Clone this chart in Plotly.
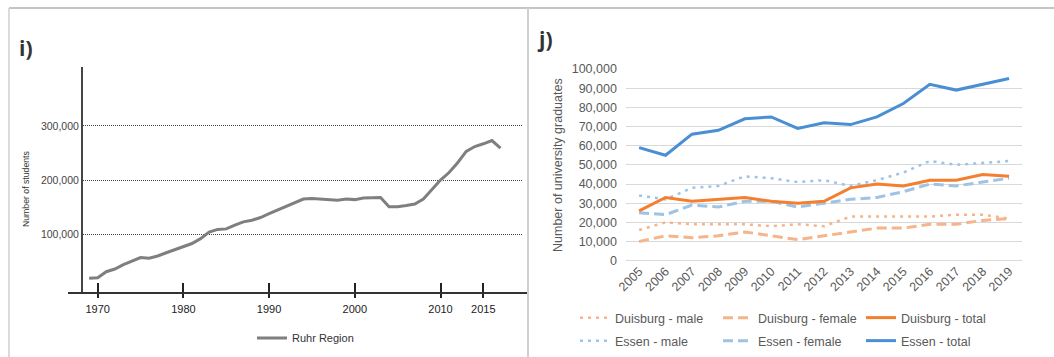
import plotly.graph_objects as go

W, H = 1054, 357


def px(x):
    return x / W


def py(y):
    return 1 - y / H


# ---- panel i): students in the Ruhr Region ----
ruhr_years = list(range(1969, 2018))
ruhr_students = [
    19000, 20000, 31000, 36000, 44000, 51000, 57000, 56000, 60000, 66000,
    72000, 78000, 83000, 92000, 104000, 109000, 110000, 117000, 123000, 126000,
    131000, 138000, 145000, 151000, 158000, 165000, 166000, 165000, 163000, 163000,
    165000, 164000, 167000, 167000, 168000, 151000, 151000, 153000, 156000, 165000,
    183000, 200000, 214000, 232000, 253000, 262000, 267000, 273000, 259000,
]
ruhr_ticks = [1970, 1980, 1990, 2000, 2010, 2015]
student_ticks = [100000, 200000, 300000]

# ---- panel j): university graduates ----
grad_years = [str(y) for y in range(2005, 2020)]
duisburg_male = [16000, 20000, 19000, 19000, 19000, 18000, 19000, 18000, 23000, 23000, 23000, 23000, 24000, 24000, 22000]
duisburg_female = [10000, 13000, 12000, 13000, 15000, 13000, 11000, 13000, 15000, 17000, 17000, 19000, 19000, 21000, 22000]
duisburg_total = [26000, 33000, 31000, 32000, 33000, 31000, 30000, 31000, 38000, 40000, 39000, 42000, 42000, 45000, 44000]
essen_male = [34000, 32000, 38000, 39000, 44000, 43000, 41000, 42000, 39000, 42000, 46000, 52000, 50000, 51000, 52000]
essen_female = [25000, 24000, 29000, 28000, 31000, 31000, 28000, 30000, 32000, 33000, 36000, 40000, 39000, 41000, 43000]
essen_total = [59000, 55000, 66000, 68000, 74000, 75000, 69000, 72000, 71000, 75000, 82000, 92000, 89000, 92000, 95000]

LIGHT_ORANGE = "#F6B48A"
ORANGE = "#F47F2E"
LIGHT_BLUE = "#9DC3E6"
BLUE = "#4A8FD3"

fig = go.Figure()

fig.add_trace(go.Scatter(
    x=ruhr_years, y=ruhr_students, mode="lines", name="Ruhr Region",
    line=dict(color="#7f7f7f", width=3), xaxis="x", yaxis="y", legend="legend",
))

# empty trace so the baseline axis pair (x3/y3) gets drawn
fig.add_trace(go.Scatter(x=[None], y=[None], mode="lines", xaxis="x3", yaxis="y3",
                         showlegend=False, hoverinfo="skip"))

grad_series = [
    ("Duisburg - male", duisburg_male, LIGHT_ORANGE, "3px,5px", 2.5, "legend2"),
    ("Duisburg - female", duisburg_female, LIGHT_ORANGE, "10px,5px", 3, "legend2"),
    ("Essen - male", essen_male, LIGHT_BLUE, "3px,5px", 2.5, "legend3"),
    ("Essen - female", essen_female, LIGHT_BLUE, "10px,5px", 3, "legend3"),
    ("Duisburg - total", duisburg_total, ORANGE, "solid", 3, "legend2"),
    ("Essen - total", essen_total, BLUE, "solid", 3, "legend3"),
]
rank = {"Duisburg - male": 1, "Duisburg - female": 2, "Duisburg - total": 3,
        "Essen - male": 1, "Essen - female": 2, "Essen - total": 3}
for name, vals, color, dash, width, leg in grad_series:
    fig.add_trace(go.Scatter(
        x=grad_years, y=vals, mode="lines", name=name,
        line=dict(color=color, width=width, dash=dash),
        xaxis="x4", yaxis="y4", legend=leg, legendrank=rank[name],
    ))

left_y_dom = [py(291.7), py(67)]
right_y_dom = [py(260.7), py(69)]


def year_at(x):
    return 1970 + (x - 97.7) / 8.57


left_font = dict(family="Liberation Sans, Arial, sans-serif")
right_font = dict(family="Liberation Sans, Arial, sans-serif", size=12.5, color="#595959")

fig.update_layout(
    width=W, height=H,
    margin=dict(l=0, r=0, t=0, b=0, autoexpand=False),
    paper_bgcolor="white", plot_bgcolor="rgba(0,0,0,0)",
    showlegend=True,
    # left panel
    xaxis=dict(
        domain=[px(83), px(523)], range=[year_at(83), year_at(523)],
        anchor="y", tickmode="array", tickvals=ruhr_ticks,
        ticks="outside", ticklen=5, tickwidth=1.5, tickcolor="#222",
        tickfont=dict(size=11, color="#222", **left_font), ticklabelstandoff=2,
        showgrid=False, zeroline=False, showline=False, automargin=False,
    ),
    yaxis=dict(
        domain=left_y_dom, range=[-5900, 408700], anchor="x",
        tickmode="array", tickvals=student_ticks, tickformat=",",
        tickfont=dict(size=10.5, color="#444", **left_font), ticks="",
        showgrid=True, gridcolor="#444", gridwidth=1, griddash="1px,1px",
        zeroline=False, showline=True, linecolor="#444", linewidth=2, automargin=False,
    ),
    # baseline of the left panel, reaching past the value axis, with inner ticks
    xaxis3=dict(
        domain=[px(68), px(527)], range=[year_at(68), year_at(527)],
        anchor="y3", tickmode="array", tickvals=ruhr_ticks,
        ticks="inside", ticklen=9, tickwidth=1.5, tickcolor="#222",
        showticklabels=False, showgrid=False, zeroline=False,
        showline=True, linecolor="#333", linewidth=1.5, automargin=False,
    ),
    yaxis3=dict(
        domain=left_y_dom, anchor="x3", range=[0, 1],
        showgrid=False, zeroline=False, showline=False,
        showticklabels=False, ticks="", automargin=False,
    ),
    # right panel
    xaxis4=dict(
        domain=[px(625.9), px(1022.3)], anchor="y4", type="category",
        range=[-0.5, 14.5], tickangle=-45, tickfont=right_font,
        ticks="", showgrid=False, zeroline=False, showline=False, automargin=False,
    ),
    yaxis4=dict(
        domain=right_y_dom, anchor="x4", range=[0, 100000], dtick=10000,
        tickformat=",", tickfont=right_font, ticks="", ticklabelstandoff=8,
        showgrid=True, gridcolor="#d9d9d9", gridwidth=1,
        zeroline=True, zerolinecolor="#d9d9d9", zerolinewidth=1,
        showline=False, automargin=False,
    ),
    legend=dict(
        orientation="h", x=px(252), xanchor="left", y=py(338), yanchor="middle",
        font=dict(size=11, color="#333", **left_font), bgcolor="rgba(0,0,0,0)",
    ),
    legend2=dict(
        orientation="h", x=px(575), xanchor="left", y=py(318), yanchor="middle",
        font=right_font, entrywidth=98, bgcolor="rgba(0,0,0,0)",
    ),
    legend3=dict(
        orientation="h", x=px(575), xanchor="left", y=py(341), yanchor="middle",
        font=right_font, entrywidth=98, bgcolor="rgba(0,0,0,0)",
    ),
)

# panel frames
frame = "#cfcfcf"
fig.add_shape(type="line", xref="paper", yref="paper", x0=px(9), x1=1, y0=py(8), y1=py(8),
              line=dict(color="#c4c4c4", width=2))
fig.add_shape(type="line", xref="paper", yref="paper", x0=px(9), x1=px(9), y0=0, y1=py(8),
              line=dict(color=frame, width=1.5))
fig.add_shape(type="line", xref="paper", yref="paper", x0=px(528), x1=px(528), y0=0, y1=py(8),
              line=dict(color=frame, width=2))

# panel letters and left axis title
fig.add_annotation(text="<b>i)</b>", xref="paper", yref="paper", x=px(17), y=py(48),
                   xanchor="left", yanchor="middle", showarrow=False,
                   font=dict(family="Open Sans, sans-serif", size=21, color="#333"))
fig.add_annotation(text="<b>j)</b>", xref="paper", yref="paper", x=px(535), y=py(39),
                   xanchor="left", yanchor="middle", showarrow=False,
                   font=dict(family="Open Sans, sans-serif", size=21, color="#333"))
fig.add_annotation(text="Number of students", xref="paper", yref="paper", x=px(26), y=py(189),
                   xanchor="center", yanchor="middle", textangle=-90, showarrow=False,
                   font=dict(size=8.7, color="#333", **left_font))
fig.add_annotation(text="Number of university graduates", xref="paper", yref="paper",
                   x=px(558), y=py(165), xanchor="center", yanchor="middle", textangle=-90,
                   showarrow=False, font=right_font)

fig.write_html("out.html")
